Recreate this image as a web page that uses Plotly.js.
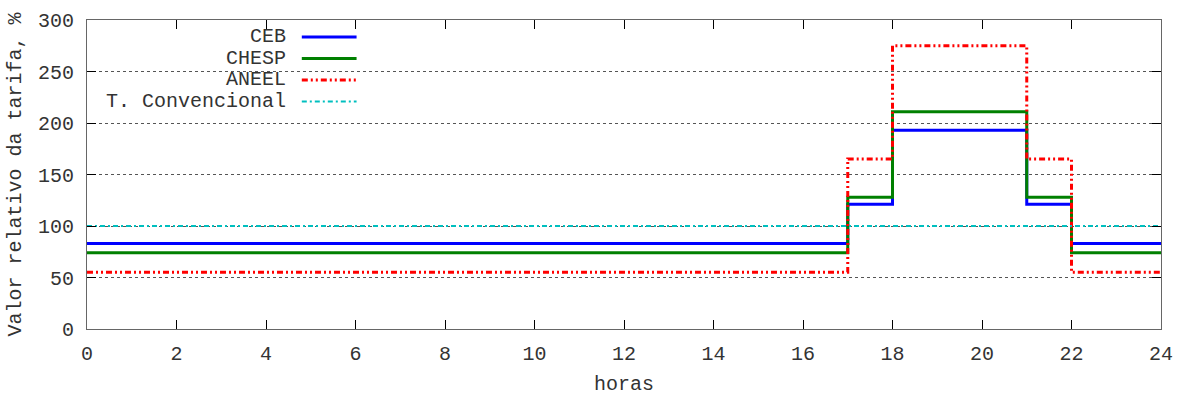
<!DOCTYPE html>
<html><head><meta charset="utf-8">
<script src="https://cdn.plot.ly/plotly-3.0.1.min.js"></script>
<style>html,body{margin:0;padding:0;background:#fff}#c{width:1179px;height:396px}</style>
</head><body><div id="c"></div>
<script>
const hours = [0, 17, 18, 21, 22, 24];
const seriesNames = ['CEB', 'CHESP', 'ANEEL', 'T. Convencional'];
const ceb = [83, 121, 193, 121, 83, 83];
const chesp = [74, 128, 211, 128, 74, 74];
const aneel = [55, 165, 275, 165, 55, 55];
const convencional = [100, 100, 100, 100, 100, 100];
const xTicks = [0, 2, 4, 6, 8, 10, 12, 14, 16, 18, 20, 22, 24];
const yTicks = [0, 50, 100, 150, 200, 250, 300];

const styles = [
  {color: '#0000ff', width: 3, dash: 'solid'},
  {color: '#008000', width: 3, dash: 'solid'},
  {color: '#ff0000', width: 3, dash: '6px,3px,2px,3px,2px,3px'},
  {color: '#00bfbf', width: 2, dash: '5px,3px,2px,3px'}
];
const values = [ceb, chesp, aneel, convencional];
const font = 'Liberation Mono, Courier New, monospace';

const traces = values.map((v, i) => ({
  x: hours, y: v, type: 'scatter', mode: 'lines', line: Object.assign({shape: 'hv'}, styles[i]),
  name: seriesNames[i], showlegend: false, hoverinfo: 'skip'
}));

const annotations = [];
const shapes = [{type: 'rect', xref: 'paper', yref: 'paper', x0: 0.008, x1: 0.258, y0: 0.71, y1: 0.975,
  fillcolor: '#ffffff', line: {width: 0}, layer: 'between'}];
const rowTop = 0.945, rowStep = 0.0695;
seriesNames.forEach((n, i) => {
  const yy = rowTop - i * rowStep;
  annotations.push({xref: 'paper', yref: 'paper', x: 0.187, y: yy, xanchor: 'right', yanchor: 'middle',
    text: n, showarrow: false, font: {family: font, size: 20, color: '#333'}});
  shapes.push({type: 'line', xref: 'paper', yref: 'paper', x0: 0.200, x1: 0.251, y0: yy, y1: yy,
    line: styles[i], layer: 'above'});
});

const layout = {
  width: 1179, height: 396,
  margin: {l: 87, r: 18, t: 20, b: 67},
  paper_bgcolor: '#fff', plot_bgcolor: '#fff',
  font: {family: font, size: 20, color: '#333'},
  xaxis: {range: [0, 24], tickvals: xTicks, ticktext: xTicks.map(String), ticks: 'inside', ticklen: 9,
    tickcolor: '#000', showgrid: false, zeroline: false, showline: true, linecolor: '#666', linewidth: 1,
    mirror: 'ticks', ticklabelstandoff: 6,
    title: {text: 'horas', font: {family: font, size: 20, color: '#333'}, standoff: 10},
    tickfont: {family: font, size: 20, color: '#333'}},
  yaxis: {range: [0, 300], tickvals: yTicks, ticktext: yTicks.map(String), ticks: 'inside', ticklen: 9,
    tickcolor: '#000', showgrid: true, gridcolor: '#555', griddash: 'dot', gridwidth: 1,
    zeroline: false, showline: true, linecolor: '#666', linewidth: 1, mirror: 'ticks', ticklabelstandoff: 8,
    title: {text: 'Valor relativo da tarifa, %', font: {family: font, size: 20, color: '#333'}, standoff: 10},
    tickfont: {family: font, size: 20, color: '#333'}},
  annotations: annotations,
  shapes: shapes
};
Plotly.newPlot('c', traces, layout, {staticPlot: true, displayModeBar: false});
</script></body></html>
